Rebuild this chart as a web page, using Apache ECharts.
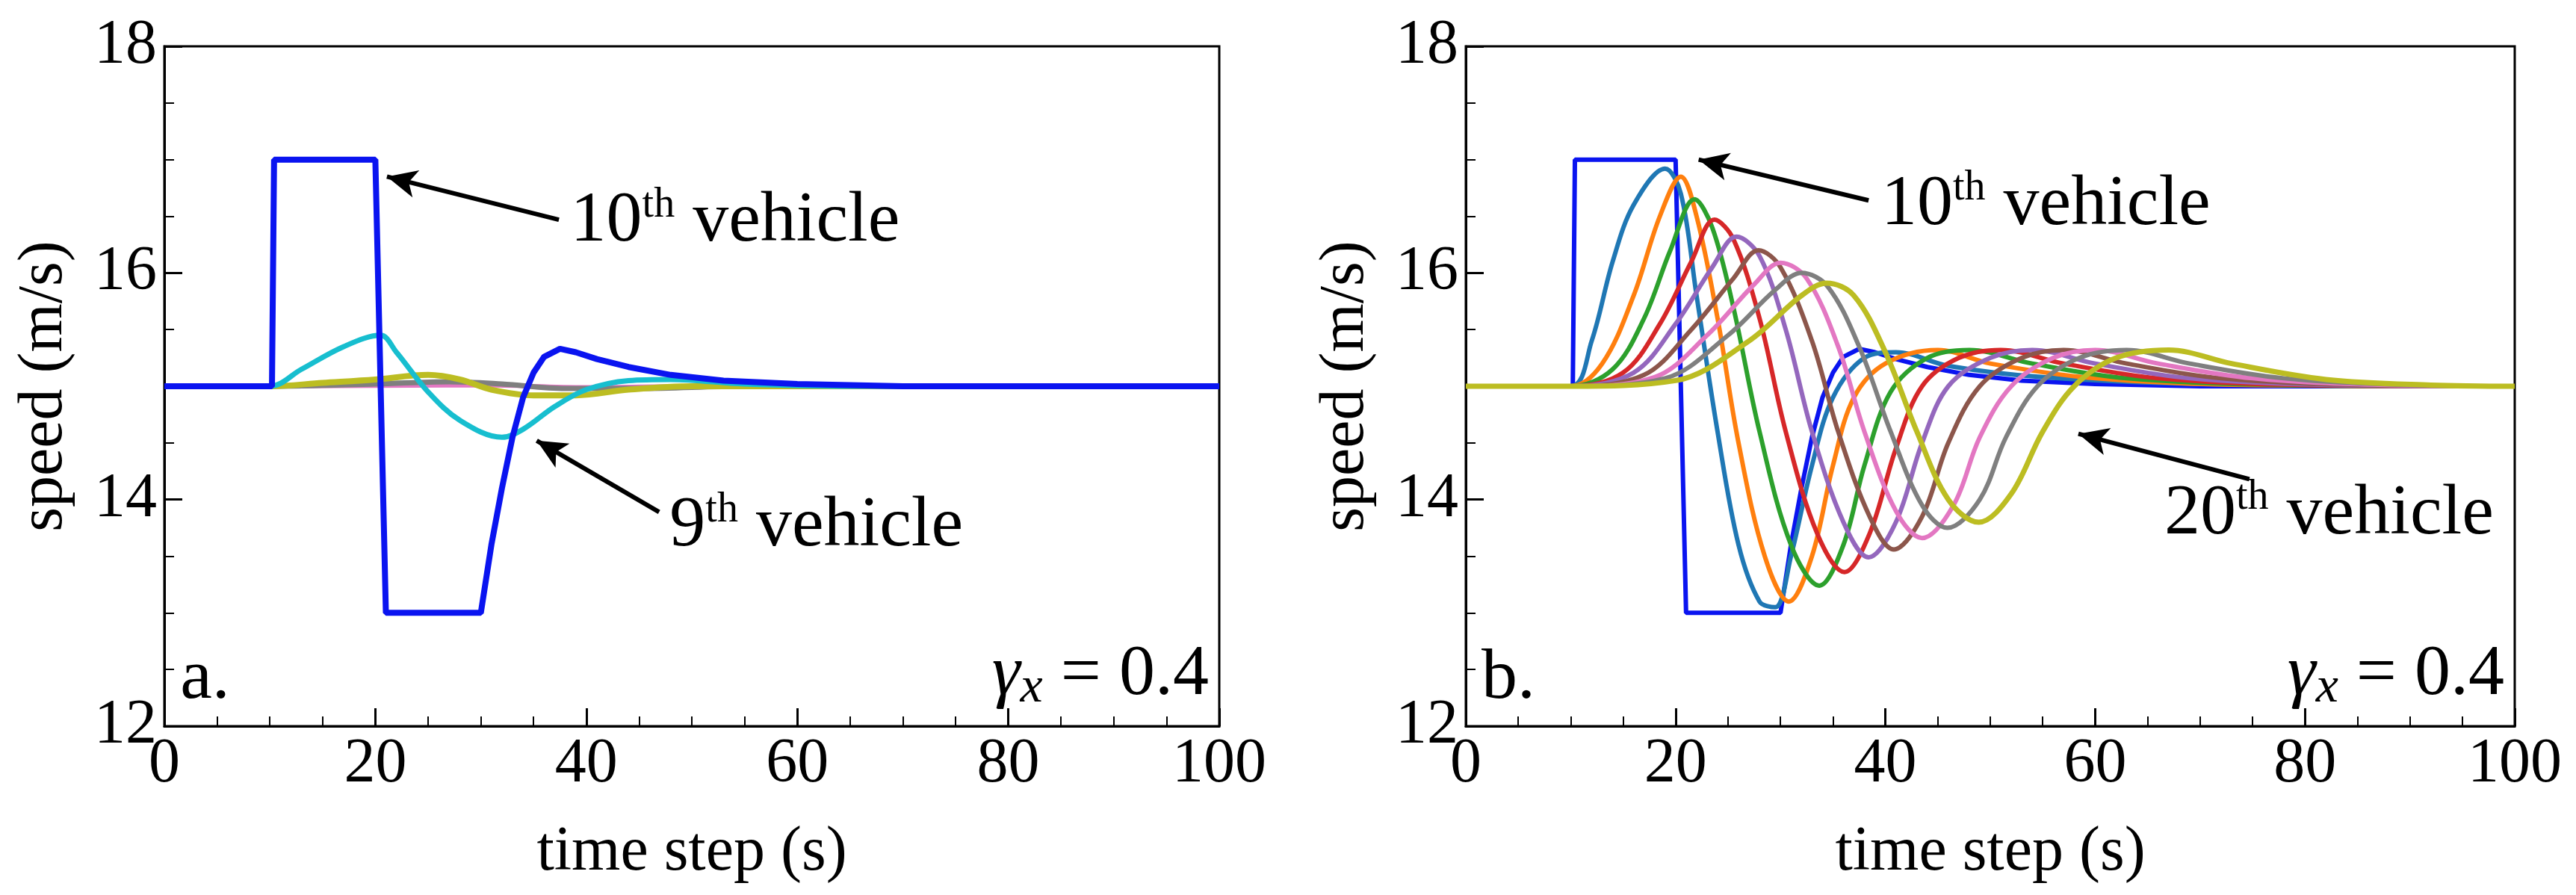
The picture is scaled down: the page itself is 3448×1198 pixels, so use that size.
<html>
<head>
<meta charset="UTF-8">
<title>speed</title>
<script src="https://cdn.jsdelivr.net/npm/echarts@6/dist/echarts.min.js"></script>
<style>
  body { margin: 0; padding: 0; background: #fff; }
  #echart { width: 3448px; height: 1198px; }
</style>
</head>
<body>
<div id="echart"></div>
<script>
// ---- panel a: [time, speed]
const a_v10 = [[0,15],[10.2,15],[10.4,17],[20,17],[21,13],[30,13],[31,13.6],[32,14.1],[33,14.55],[34,14.9],[35,15.12],[36,15.26],[37.5,15.33],[39,15.3],[41,15.24],[44,15.17],[48,15.1],[53,15.05],[60,15.02],[70,15],[100,15]];
const a_v9 = [[0,15],[10,15],[13,15.15],[17,15.35],[20.5,15.45],[22,15.3],[25,14.95],[28,14.7],[32,14.55],[34,14.62],[37,14.82],[40,14.97],[44,15.05],[48,15.06],[55,15.02],[65,15],[100,15]];
const a_v8 = [[0,15],[10,15],[15,15.03],[20,15.06],[25,15.1],[28,15.06],[31,14.97],[35,14.92],[39,14.92],[44,14.97],[50,15],[100,15]];
const a_v7 = [[0,15],[10,15],[20,15.02],[27,15.04],[32,15.02],[38,14.98],[45,14.98],[55,15],[100,15]];
const a_v6 = [[0,15],[10,15],[30,15.01],[40,14.99],[50,15],[100,15]];

// ---- panel b
const b_v10 = [[0,15],[10.2,15],[10.4,17],[20,17],[21,13],[30,13],[31,13.6],[32,14.1],[33,14.55],[34,14.9],[35,15.12],[36,15.26],[37.5,15.33],[39,15.3],[41,15.24],[44,15.17],[48,15.1],[53,15.05],[60,15.02],[70,15],[100,15]];
const b_v11 = [[0,15],[10,15],[12,15.4],[14,16.1],[16,16.6],[19,16.92],[20.5,16.7],[22,15.8],[24,14.6],[26,13.6],[28,13.1],[29.5,13.05],[31,13.5],[33,14.3],[35,14.9],[38,15.25],[41,15.3],[46,15.18],[55,15.08],[70,15.02],[100,15]];
const b_v12 = [[0,15],[10,15],[13,15.2],[16,15.8],[18.5,16.5],[20.5,16.85],[22,16.5],[24,15.6],[26,14.5],[28.5,13.5],[30.8,13.1],[33,13.5],[35,14.3],[37,14.9],[40,15.2],[45,15.32],[50,15.2],[60,15.07],[75,15.01],[100,15]];
const b_v13 = [[0,15],[10,15],[14,15.15],[17,15.6],[19.5,16.2],[21.8,16.65],[23.5,16.4],[25.5,15.7],[28,14.6],[31,13.6],[33.7,13.24],[36,13.6],[38,14.3],[40.5,14.95],[44,15.25],[48,15.32],[54,15.2],[63,15.07],[78,15.01],[100,15]];
const b_v14 = [[0,15],[10,15],[15,15.12],[18.5,15.55],[21.5,16.1],[23.7,16.47],[25.5,16.3],[28,15.6],[30.5,14.6],[33.5,13.7],[36.1,13.36],[38.5,13.7],[41,14.45],[43.5,15],[47,15.25],[51,15.32],[57,15.2],[66,15.07],[80,15.01],[100,15]];
const b_v15 = [[0,15],[10,15],[16,15.12],[20,15.55],[23.5,16.05],[25.8,16.32],[28,16.15],[30.5,15.5],[33,14.6],[36,13.8],[38.4,13.49],[41,13.8],[43.5,14.5],[46,15],[50,15.25],[54,15.32],[60,15.2],[69,15.07],[83,15.01],[100,15]];
const b_v16 = [[0,15],[10,15],[17,15.1],[21.5,15.5],[25.5,15.95],[27.9,16.2],[30,16.05],[33,15.4],[35.5,14.6],[38.5,13.85],[40.8,13.56],[43.5,13.85],[46,14.5],[49,15],[53,15.25],[57,15.32],[63,15.2],[72,15.07],[86,15.01],[100,15]];
const b_v17 = [[0,15],[10,15],[18,15.08],[23,15.45],[27.5,15.9],[30,16.09],[32.5,15.95],[35.5,15.35],[38,14.6],[41,13.9],[43.5,13.66],[46.5,13.95],[49,14.55],[52,15],[56,15.25],[60,15.32],[66,15.2],[75,15.07],[88,15.01],[100,15]];
const b_v18 = [[0,15],[10,15],[19,15.07],[25,15.45],[29.5,15.85],[32,16],[34.5,15.88],[37.5,15.35],[40.5,14.6],[43.5,13.95],[45.9,13.75],[49,14],[51.5,14.55],[54.5,15],[58.5,15.25],[63,15.32],[69,15.2],[78,15.07],[90,15.01],[100,15]];
const b_v20 = [[0,15],[10,15],[20,15.05],[27,15.4],[32,15.8],[34.4,15.91],[37,15.8],[40,15.3],[43,14.6],[46,14],[48.9,13.8],[52,14.05],[55,14.6],[58,15],[62,15.25],[67,15.32],[73,15.2],[82,15.06],[92,15.01],[100,15]];

const FONT = 'Liberation Serif';
const rich = {
  n: { fontFamily: FONT, fontSize: 96, color: '#000' },
  s: { fontFamily: FONT, fontSize: 56, color: '#000', padding: [0, 0, 44, 0] },
  g: { fontFamily: FONT, fontSize: 96, color: '#000', fontStyle: 'italic' },
  sub: { fontFamily: FONT, fontSize: 68, color: '#000', fontStyle: 'italic', padding: [34, 0, 0, 0] }
};

function xAxis(i) {
  return {
    gridIndex: i, type: 'value', min: 0, max: 100, interval: 20,
    name: 'time step (s)', nameLocation: 'middle', nameGap: 128,
    nameTextStyle: { fontFamily: FONT, fontSize: 84, color: '#000' },
    axisLine: { lineStyle: { color: '#000', width: 3 } },
    axisTick: { inside: true, length: 24, lineStyle: { color: '#000', width: 3 } },
    minorTick: { show: true, splitNumber: 4, length: 13, lineStyle: { color: '#000', width: 2 } },
    axisLabel: { fontFamily: FONT, fontSize: 84, color: '#000', margin: 10 },
    splitLine: { show: false }
  };
}
function yAxis(i) {
  return {
    gridIndex: i, type: 'value', min: 12, max: 18, interval: 2,
    name: 'speed (m/s)', nameLocation: 'middle', nameGap: 118,
    nameTextStyle: { fontFamily: FONT, fontSize: 84, color: '#000' },
    axisLine: { lineStyle: { color: '#000', width: 3 } },
    axisTick: { inside: true, length: 24, lineStyle: { color: '#000', width: 3 } },
    minorTick: { show: true, splitNumber: 4, length: 13, lineStyle: { color: '#000', width: 2 } },
    axisLabel: { fontFamily: FONT, fontSize: 84, color: '#000', margin: 10 },
    splitLine: { show: false }
  };
}
function line(i, data, color, w, smooth) {
  return {
    type: 'line', xAxisIndex: i, yAxisIndex: i, data: data, showSymbol: false,
    smooth: smooth ? 0.35 : false, lineStyle: { color: color, width: w }, itemStyle: { color: color },
    animation: false, z: 2
  };
}
function arrow(from, to) {
  return [{ coord: from, symbol: 'none' }, { coord: to, symbol: 'arrow', symbolSize: [28, 40] }];
}
function texts(list) {
  return list.map(t => ({
    coord: t.at, symbol: 'circle', symbolSize: 0,
    label: { show: true, position: t.pos || 'right', distance: 0, formatter: t.f, rich: rich }
  }));
}
function annot(i, arrows, labels) {
  return {
    type: 'line', xAxisIndex: i, yAxisIndex: i, data: [], animation: false, z: 5,
    markLine: { silent: true, animation: false, label: { show: false },
      lineStyle: { color: '#000', width: 6, type: 'solid' }, data: arrows },
    markPoint: { silent: true, animation: false, data: texts(labels) }
  };
}

const gammaF = '{g|γ}{sub|x}{n| = 0.4}';

const option = {
  backgroundColor: '#fff',
  animation: false,
  grid: [
    { left: 220, right: 1816, top: 62, bottom: 226, show: true, borderColor: '#000', borderWidth: 3 },
    { left: 1962, right: 82, top: 62, bottom: 226, show: true, borderColor: '#000', borderWidth: 3 }
  ],
  xAxis: [xAxis(0), xAxis(1)],
  yAxis: [yAxis(0), yAxis(1)],
  series: [
    line(0, a_v6, '#e377c2', 6, true),
    line(0, a_v7, '#7f7f7f', 7, true),
    line(0, a_v8, '#bcbd22', 8, true),
    line(0, a_v9, '#17becf', 7, true),
    line(0, a_v10, '#0a14f0', 8, false),
    annot(0,
      [arrow([37.4, 16.47], [21.1, 16.85]), arrow([46.9, 13.89], [35.3, 14.52])],
      [
        { at: [38.5, 16.45], f: '{n|10}{s|th}{n| vehicle}' },
        { at: [47.9, 13.76], f: '{n|9}{s|th}{n| vehicle}' },
        { at: [1.5, 12.42], f: '{n|a.}' },
        { at: [99, 12.45], f: gammaF, pos: 'left' }
      ]),
    line(1, b_v10, '#0a14f0', 6, false),
    line(1, b_v11, '#1f77b4', 6, true),
    line(1, b_v12, '#ff7f0e', 6, true),
    line(1, b_v13, '#2ca02c', 6, true),
    line(1, b_v14, '#d62728', 6, true),
    line(1, b_v15, '#9467bd', 6, true),
    line(1, b_v16, '#8c564b', 6, true),
    line(1, b_v17, '#e377c2', 6, true),
    line(1, b_v18, '#7f7f7f', 6, true),
    line(1, b_v20, '#bcbd22', 7, true),
    annot(1,
      [arrow([38.4, 16.64], [22.2, 17.0]), arrow([74.7, 14.18], [58.4, 14.58])],
      [
        { at: [39.6, 16.6], f: '{n|10}{s|th}{n| vehicle}' },
        { at: [66.6, 13.87], f: '{n|20}{s|th}{n| vehicle}' },
        { at: [1.5, 12.42], f: '{n|b.}' },
        { at: [99, 12.45], f: gammaF, pos: 'left' }
      ])
  ]
};

const ec = echarts.init(document.getElementById('echart'));
ec.setOption(option);
</script>
</body>
</html>
